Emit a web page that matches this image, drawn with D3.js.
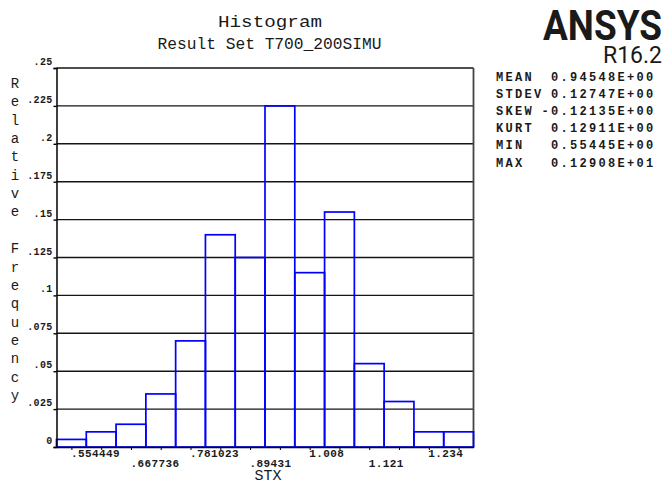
<!DOCTYPE html>
<html lang="en">
<head>
	<meta charset="UTF-8">
	<title>Histogram</title>
	<style>
		body { margin: 0; background: #fff; }
		text { font-family: "Liberation Mono", "DejaVu Sans Mono", monospace; fill: #1a1a1a; }
	</style>
</head>
<body>
	<svg id="cont" width="665" height="482"></svg>
</body>
<script src="https://cdn.jsdelivr.net/npm/d3@7"></script>
<script>
	// relative frequency per bin (200 samples -> steps of .005)
	let freq = [0.005, 0.01, 0.015, 0.035, 0.07, 0.14, 0.125, 0.225, 0.115, 0.155, 0.055, 0.03, 0.01, 0.01];
	// labelled x ticks (every second bin centre)
	let xTickVals = [0.554449, 0.667736, 0.781023, 0.89431, 1.008, 1.121, 1.234];
	let xTickText = [".554449", ".667736", ".781023", ".89431", "1.008", "1.121", "1.234"];
	let yTickVals = [0, 0.025, 0.05, 0.075, 0.1, 0.125, 0.15, 0.175, 0.2, 0.225, 0.25];
	let statNames = ["MEAN", "STDEV", "SKEW", "KURT", "MIN", "MAX"];
	let statVals = ["0.94548E+00", "0.12747E+00", "-0.12135E+00", "0.12911E+00", "0.55445E+00", "0.12908E+01"];
	let yTitle = "Relative Frequency";

	let svg = d3.select("#cont");
	let pLeft = 56.5, pRight = 473.5, pTop = 68, pBottom = 447;

	// bins are centred on the ticks, half of a label step wide
	let binW = (xTickVals[1] - xTickVals[0]) / 2;
	let centers = freq.map((d, i) => xTickVals[0] + i * binW);

	let x = d3.scaleLinear()
		.domain([centers[0] - binW / 2, centers[centers.length - 1] + binW / 2])
		.range([pLeft, pRight]);
	let y = d3.scaleLinear()
		.domain([0, 0.25])
		.range([pBottom, pTop]);

	// grid lines
	svg.append("g")
		.selectAll("line")
		.data(yTickVals.slice(1))
		.enter()
		.append("line")
		.attr("x1", pLeft)
		.attr("x2", pRight)
		.attr("y1", d => y(d))
		.attr("y2", d => y(d))
		.attr("stroke", "#151515")
		.attr("stroke-width", 1.4);

	svg.append("line")
		.attr("x1", pRight).attr("x2", pRight)
		.attr("y1", pTop).attr("y2", pBottom)
		.attr("stroke", "#444").attr("stroke-width", 1.8);

	// bars
	svg.append("g")
		.selectAll("rect")
		.data(freq)
		.enter()
		.append("rect")
		.attr("x", (d, i) => x(centers[i] - binW / 2))
		.attr("width", (d, i) => x(centers[i] + binW / 2) - x(centers[i] - binW / 2))
		.attr("y", d => y(d))
		.attr("height", d => pBottom - y(d))
		.attr("fill", "none")
		.attr("stroke", "#0000ff")
		.attr("stroke-width", 1.7);

	// y axis
	let yaxis = d3.axisLeft(y)
		.tickValues(yTickVals)
		.tickSize(3)
		.tickFormat(d => d === 0 ? "0" : d3.format("")(d).replace(/^0/, ""));
	let yg = svg.append("g")
		.attr("transform", "translate(" + pLeft + ",0)")
		.call(yaxis);
	yg.select(".domain").attr("stroke", "#000").attr("stroke-width", 1.5);
	yg.selectAll(".tick line").attr("stroke", "#000").attr("stroke-width", 1.4);
	yg.selectAll(".tick text")
		.attr("x", -4)
		.attr("dy", "-0.35em")
		.style("font-size", "10px")
		.style("font-weight", "bold")
		.style("letter-spacing", "0.3px")
		.attr("fill", "#222");

	// x axis
	let xaxis = d3.axisBottom(x)
		.tickValues(centers)
		.tickSize(3)
		.tickSizeOuter(0)
		.tickFormat((d, i) => i % 2 === 0 ? xTickText[i / 2] : "");
	let xg = svg.append("g")
		.attr("transform", "translate(0," + pBottom + ")")
		.call(xaxis);
	xg.select(".domain").attr("stroke", "#000").attr("stroke-width", 1.5);
	xg.selectAll(".tick line").attr("stroke", "#000");
	xg.selectAll(".tick text")
		.attr("text-anchor", "start")
		.attr("x", -1)
		.attr("y", (d, i) => (i / 2) % 2 === 1 ? 20 : 10)
		.attr("dy", 0)
		.style("font-size", "11px")
		.style("font-weight", "bold")
		.style("letter-spacing", "0.4px")
		.attr("fill", "#222");

	svg.append("text")
		.attr("x", 268).attr("y", 480)
		.attr("text-anchor", "middle")
		.style("font-size", "15px")
		.text("STX");

	// vertical axis title, one letter per line
	svg.append("g")
		.selectAll("text")
		.data(yTitle.split(""))
		.enter()
		.append("text")
		.attr("x", 15)
		.attr("y", (d, i) => 88 + i * 18.35)
		.attr("text-anchor", "middle")
		.style("font-size", "14px")
		.text(d => d);

	// titles
	svg.append("text")
		.attr("x", 270).attr("y", 27)
		.attr("text-anchor", "middle")
		.attr("textLength", 104)
		.attr("lengthAdjust", "spacingAndGlyphs")
		.style("font-size", "16px")
		.text("Histogram");
	svg.append("text")
		.attr("x", 269.5).attr("y", 49)
		.attr("text-anchor", "middle")
		.attr("textLength", 224)
		.attr("lengthAdjust", "spacingAndGlyphs")
		.style("font-size", "16px")
		.text("Result Set T700_200SIMU");

	svg.append("text")
		.attr("x", 662).attr("y", 40)
		.attr("text-anchor", "end")
		.attr("textLength", 119)
		.attr("lengthAdjust", "spacingAndGlyphs")
		.style("font-family", "Roboto, 'DejaVu Sans', sans-serif")
		.style("font-weight", "bold")
		.style("font-size", "42px")
		.attr("fill", "#000")
		.text("ANSYS");
	svg.append("text")
		.attr("x", 662).attr("y", 63)
		.attr("text-anchor", "end")
		.style("font-family", "Roboto, 'DejaVu Sans', sans-serif")
		.style("font-size", "23px")
		.text("R16.2");

	// statistics block
	let stats = svg.append("g")
		.style("font-size", "12px")
		.style("font-weight", "bold")
		.style("letter-spacing", "2.3px");
	stats.selectAll(".name")
		.data(statNames)
		.enter()
		.append("text")
		.attr("class", "name")
		.attr("x", 496)
		.attr("y", (d, i) => 81 + i * 17.1)
		.text(d => d);
	stats.selectAll(".val")
		.data(statVals)
		.enter()
		.append("text")
		.attr("class", "val")
		.attr("x", 655.5)
		.attr("y", (d, i) => 81 + i * 17.1)
		.attr("text-anchor", "end")
		.text(d => d);
</script>
</html>
